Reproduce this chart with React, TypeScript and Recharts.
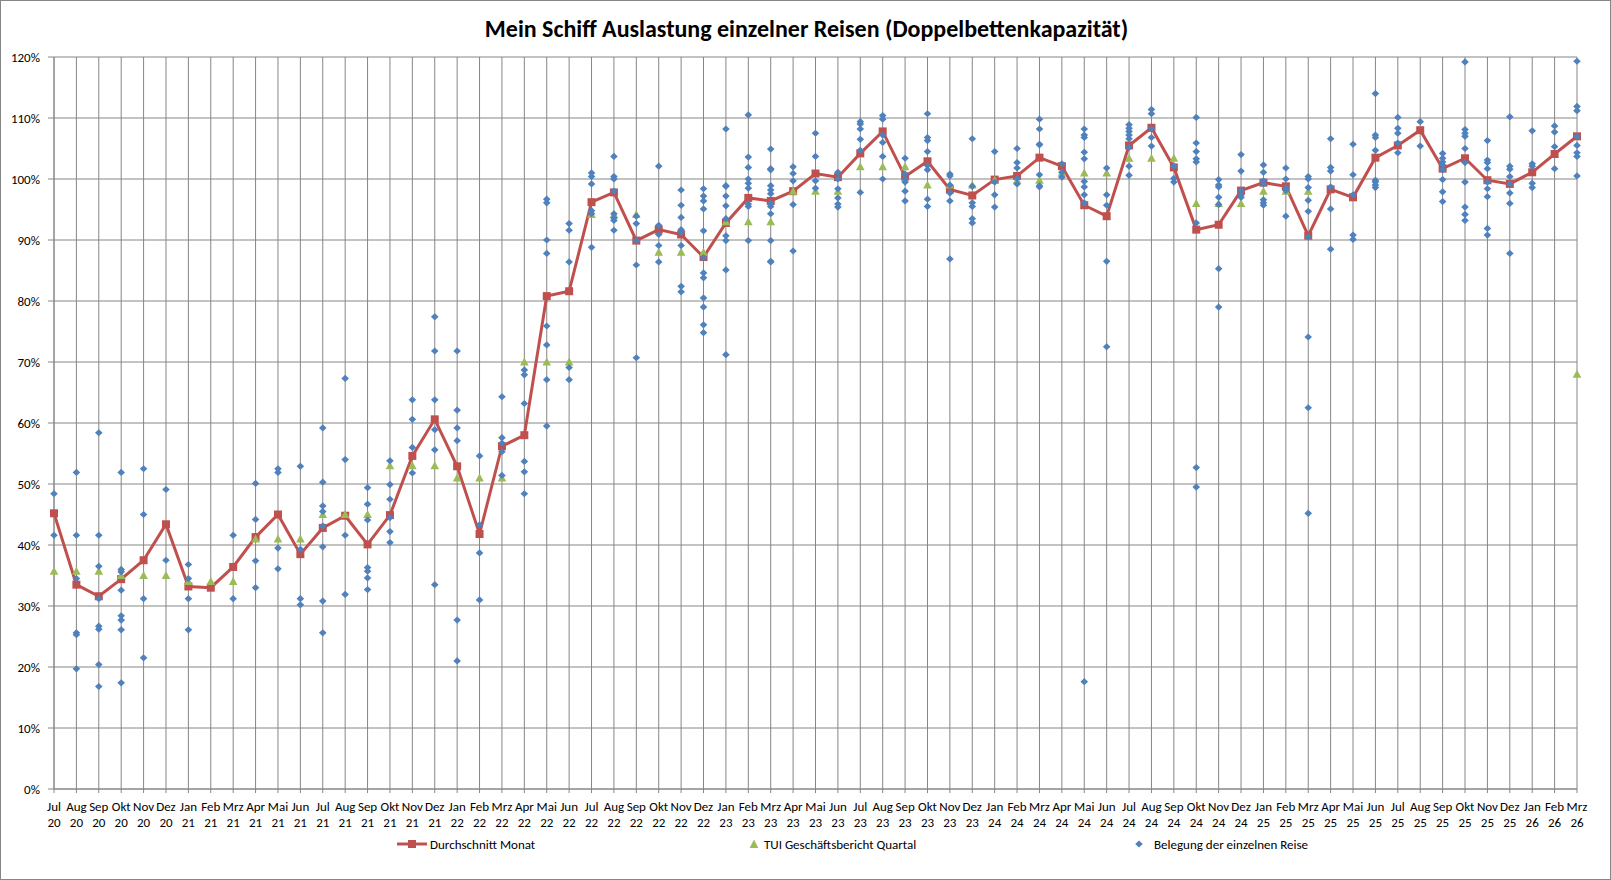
import React from 'react';
import { ComposedChart, Line, XAxis, YAxis, CartesianGrid } from 'recharts';

// Monat-Labels Jul 20 .. Mrz 26
const monthNames = ['Jul', 'Aug', 'Sep', 'Okt', 'Nov', 'Dez', 'Jan', 'Feb', 'Mrz', 'Apr', 'Mai', 'Jun'];
const months: string[] = [];
for (let i = 0; i < 69; i++) {
  const yr = 20 + Math.floor((i + 6) / 12);
  months.push(`${monthNames[i % 12]} ${yr}`);
}

// Durchschnitt Monat (%)
const avgMonth = [
  45.2, 33.5, 31.6, 34.4, 37.5, 43.4,
  33.2, 33.0, 36.4, 41.3, 45.0, 38.5, 42.8, 44.8, 40.1, 44.9, 54.6, 60.6,
  52.9, 41.8, 56.2, 58.0, 80.8, 81.6, 96.2, 97.8, 89.9, 91.7, 90.9, 87.2,
  92.8, 96.9, 96.4, 98.0, 100.9, 100.3, 104.2, 107.8, 100.4, 102.9, 98.3, 97.3,
  99.9, 100.5, 103.5, 102.1, 95.7, 93.9, 105.5, 108.4, 101.9, 91.7, 92.5, 98.1,
  99.4, 98.8, 90.7, 98.3, 97.0, 103.5, 105.5, 108.0, 101.7, 103.4, 99.8, 99.2,
  101.1, 104.1, 107.0,
];

// TUI Geschäftsbericht Quartal (%)
const tuiQuarter: (number | null)[] = [
  35.7, 35.7, 35.7, 35, 35, 35,
  34, 34, 34, 41, 41, 41, 45, 45, 45, 53, 53, 53,
  51, 51, 51, 70, 70, 70, 94.2, 94.2, 94.2, 88, 88, 88,
  93, 93, 93, 98, 98, 98, 102, 102, 102, 99, 99, 99,
  99.8, 99.8, 99.8, 101, 101, 101, 103.4, 103.4, 103.4, 96, 96, 96,
  98, 98, 98, null, null, null, null, null, null, null, null, null,
  null, null, 68,
];

// Belegung der einzelnen Reise (%), je Monat
const tripsByMonth: number[][] = [
  [48.4, 41.6],
  [51.9, 41.6, 34.5, 25.6, 25.3, 19.7],
  [58.4, 41.6, 36.5, 31.2, 26.7, 26.2, 20.4, 16.8],
  [51.9, 36.0, 35.6, 32.6, 28.4, 27.7, 26.1, 17.4],
  [52.5, 45.0, 31.2, 21.5],
  [49.1, 37.5],
  [36.8, 34.5, 31.2, 26.1],
  [],
  [41.6, 31.2],
  [50.1, 44.2, 37.4, 33.0],
  [52.5, 51.9, 39.5, 36.1],
  [52.9, 39.3, 31.2, 30.2],
  [59.2, 50.3, 46.4, 45.5, 43.1, 39.7, 30.8, 25.6],
  [67.3, 54.0, 41.6, 31.9],
  [49.4, 46.7, 44.1, 36.3, 35.7, 34.6, 32.7],
  [53.8, 49.9, 47.5, 44.5, 42.2, 40.4],
  [63.8, 60.6, 56.0, 51.8],
  [77.4, 71.8, 63.8, 58.9, 55.6, 33.5],
  [71.8, 62.1, 59.2, 57.1, 27.7, 21.0],
  [54.6, 43.3, 38.7, 31.0],
  [64.3, 57.6, 56.7, 55.3, 51.4],
  [68.7, 67.9, 63.2, 53.7, 52.0, 48.4],
  [96.7, 96.1, 90.0, 87.8, 75.9, 72.8, 67.1, 59.5],
  [92.7, 91.6, 86.4, 69.1, 67.1],
  [101.0, 100.4, 99.2, 94.8, 94.3, 88.8],
  [103.7, 100.4, 100.0, 98.0, 94.3, 93.6, 93.2, 91.6],
  [93.9, 92.7, 89.9, 85.9, 70.7],
  [102.1, 92.4, 90.9, 89.1, 86.4],
  [98.2, 95.7, 93.7, 91.7, 91.3, 89.1, 82.4, 81.5],
  [98.4, 97.2, 96.4, 95.1, 91.5, 87.1, 84.6, 83.8, 80.5, 79.0, 76.1, 74.8],
  [108.2, 98.9, 98.8, 97.2, 95.6, 93.5, 90.7, 89.9, 85.1, 71.2],
  [110.5, 103.6, 101.9, 100.0, 99.3, 98.5, 95.9, 95.5, 89.9],
  [104.9, 101.7, 101.5, 98.9, 98.2, 97.6, 96.0, 95.5, 94.3, 89.9, 86.5, 86.4],
  [102.0, 100.9, 99.7, 95.8, 88.2],
  [107.5, 103.7, 99.7, 98.5],
  [101.1, 100.0, 98.4, 96.9, 95.9, 95.4],
  [109.4, 109.0, 108.2, 106.5, 104.7, 97.8],
  [110.4, 109.8, 107.2, 106.0, 103.7, 100.0],
  [103.4, 100.8, 100.0, 99.5, 98.0, 96.4],
  [110.7, 106.8, 106.3, 104.5, 102.2, 101.5, 96.7, 95.5],
  [100.8, 100.5, 99.0, 97.7, 96.4, 86.9],
  [106.6, 98.8, 96.1, 95.5, 93.5, 92.8],
  [104.5, 99.5, 97.4, 95.4],
  [105.0, 102.7, 101.8, 100.1, 99.2],
  [109.8, 108.2, 105.7, 105.6, 100.7, 98.9, 98.7],
  [102.5, 101.1, 100.3],
  [108.2, 107.2, 106.8, 104.4, 103.3, 99.6, 98.7, 97.4, 96.1, 17.6],
  [101.8, 97.4, 95.7, 86.5, 72.5],
  [108.9, 108.3, 107.8, 107.2, 106.6, 105.2, 102.1, 100.6],
  [111.4, 110.7, 108.2, 106.8, 105.4],
  [102.1, 100.1, 99.5],
  [110.1, 105.9, 104.5, 103.3, 102.8, 92.8, 52.7, 49.5],
  [99.9, 99.0, 98.7, 97.0, 95.8, 85.3, 79.0],
  [104.0, 101.3, 98.1, 97.4, 97.0],
  [102.3, 101.1, 99.7, 99.2, 96.6, 96.1, 95.7],
  [101.8, 100.0, 98.6, 98.1, 93.9],
  [100.4, 100.0, 98.6, 96.5, 94.7, 90.5, 74.1, 62.5, 45.2],
  [106.6, 101.9, 101.3, 98.7, 95.1, 88.5],
  [105.7, 100.7, 97.4, 90.8, 90.1],
  [114.0, 107.2, 106.8, 104.7, 99.8, 99.5, 99.0, 98.6],
  [110.1, 108.3, 107.5, 105.9, 104.3],
  [109.4, 105.4],
  [104.2, 103.4, 102.8, 102.3, 101.5, 99.9, 97.9, 96.3],
  [119.2, 108.1, 107.5, 107.0, 105.0, 102.7, 99.5, 95.4, 94.2, 93.2],
  [106.3, 103.1, 102.7, 101.7, 99.5, 98.4, 97.1, 91.9, 90.8],
  [110.2, 102.1, 101.6, 100.4, 99.2, 97.7, 96.0, 87.8],
  [107.9, 102.5, 102.1, 99.3, 98.6],
  [108.7, 107.7, 105.3, 101.7],
  [119.3, 111.9, 111.2, 107.0, 105.5, 104.3, 103.7, 100.5],
];

const yTicks = [0, 10, 20, 30, 40, 50, 60, 70, 80, 90, 100, 110, 120];

const RED = '#C0504D';
const GREEN = '#9BBB59';
const BLUE = '#4F81BD';
const GRID = '#868686';
const FONT = 'Carlito, Calibri, Lato, sans-serif';

const maxTrips = Math.max(...tripsByMonth.map((t) => t.length));
const tripKeys = Array.from({ length: maxTrips }, (_, k) => `t${k}`);

const data = months.map((m, i) => {
  const row: Record<string, string | number | null> = {
    month: m,
    avg: avgMonth[i],
    tui: tuiQuarter[i],
  };
  tripKeys.forEach((key, k) => {
    row[key] = tripsByMonth[i][k] ?? null;
  });
  return row;
});

const SquareDot = (props: any) => {
  const { cx, cy, index, value } = props;
  if (cx == null || cy == null || value == null) return <g key={`sq-${index}`} />;
  return <rect key={`sq-${index}`} x={cx - 4} y={cy - 4} width={8} height={8} fill={RED} />;
};

const TriangleDot = (props: any) => {
  const { cx, cy, index, value } = props;
  if (cx == null || cy == null || value == null) return <g key={`tr-${index}`} />;
  return (
    <path
      key={`tr-${index}`}
      d={`M${cx},${cy - 4.5}L${cx + 4.3},${cy + 3.5}L${cx - 4.3},${cy + 3.5}Z`}
      fill={GREEN}
    />
  );
};

const DiamondDot = (props: any) => {
  const { cx, cy, index, value, dataKey } = props;
  if (cx == null || cy == null || value == null) return <g key={`di-${dataKey}-${index}`} />;
  return (
    <path
      key={`di-${dataKey}-${index}`}
      d={`M${cx},${cy - 3.6}L${cx + 3.8},${cy}L${cx},${cy + 3.6}L${cx - 3.8},${cy}Z`}
      fill={BLUE}
    />
  );
};

const MonthTick = (props: any) => {
  const { x, y, payload } = props;
  const [m, yr] = String(payload.value).split(' ');
  return (
    <text x={x} y={y} textAnchor="middle" fontSize={13} fill="#000" fontFamily={FONT}>
      <tspan x={x} y={y + 16}>{m}</tspan>
      <tspan x={x} y={y + 32}>{yr}</tspan>
    </text>
  );
};

const LegendItem = ({ left, icon, label }: { left: number; icon: React.ReactNode; label: string }) => (
  <div style={{ position: 'absolute', left, top: 834, height: 18, display: 'flex', alignItems: 'center' }}>
    {icon}
    <span style={{ fontSize: 13, fontFamily: FONT, color: '#000', marginLeft: 3, whiteSpace: 'nowrap' }}>{label}</span>
  </div>
);

export default function App() {
  return (
    <div
      style={{
        position: 'absolute',
        left: 0,
        top: 0,
        width: 1611,
        height: 880,
        boxSizing: 'border-box',
        border: `1px solid ${GRID}`,
        background: '#fff',
        overflow: 'hidden',
      }}
    >
      <div
        style={{
          position: 'absolute',
          left: 0,
          top: 13,
          width: 1611,
          lineHeight: '30px',
          textAlign: 'center',
          fontFamily: FONT,
          fontWeight: 'bold',
          fontSize: 24,
          color: '#000',
        }}
      >
        Mein Schiff Auslastung einzelner Reisen (Doppelbettenkapazität)
      </div>
      <div style={{ position: 'absolute', left: -1, top: -1 }}>
        <ComposedChart width={1611} height={880} data={data} margin={{ top: 57, right: 34, bottom: 40, left: 0 }}>
          <CartesianGrid stroke={GRID} strokeWidth={1} />
          <XAxis
            dataKey="month"
            scale="point"
            interval={0}
            padding={{ left: 0, right: 0 }}
            height={51}
            tickSize={4}
            tickMargin={2}
            axisLine={{ stroke: GRID }}
            tickLine={{ stroke: GRID }}
            tick={<MonthTick />}
          />
          <YAxis
            type="number"
            domain={[0, 120]}
            ticks={yTicks}
            interval={0}
            width={54}
            tickSize={6}
            tickMargin={8}
            axisLine={{ stroke: GRID }}
            tickLine={{ stroke: GRID }}
            tickFormatter={(v: number) => `${v}%`}
            tick={{ fill: '#000', fontSize: 13, fontFamily: FONT }}
          />
          <Line
            dataKey="avg"
            type="linear"
            stroke={RED}
            strokeWidth={3}
            dot={SquareDot}
            activeDot={false}
            isAnimationActive={false}
          />
          <Line
            dataKey="tui"
            type="linear"
            stroke="none"
            dot={TriangleDot}
            activeDot={false}
            isAnimationActive={false}
          />
          {tripKeys.map((key) => (
            <Line
              key={key}
              dataKey={key}
              type="linear"
              stroke="none"
              connectNulls={false}
              dot={DiamondDot}
              activeDot={false}
              isAnimationActive={false}
            />
          ))}
        </ComposedChart>
      </div>
      <LegendItem
        left={396}
        label="Durchschnitt Monat"
        icon={
          <svg width={30} height={10}>
            <line x1={0} y1={5} x2={30} y2={5} stroke={RED} strokeWidth={3} />
            <rect x={11} y={1} width={8} height={8} fill={RED} />
          </svg>
        }
      />
      <LegendItem
        left={746}
        label="TUI Geschäftsbericht Quartal"
        icon={
          <svg width={14} height={10}>
            <path d="M7,0.5L11.3,9L2.7,9Z" fill={GREEN} />
          </svg>
        }
      />
      <LegendItem
        left={1126}
        label="Belegung der einzelnen Reise"
        icon={
          <svg width={24} height={10}>
            <path d="M12,1.4L15.8,5L12,8.6L8.2,5Z" fill={BLUE} />
          </svg>
        }
      />
    </div>
  );
}
